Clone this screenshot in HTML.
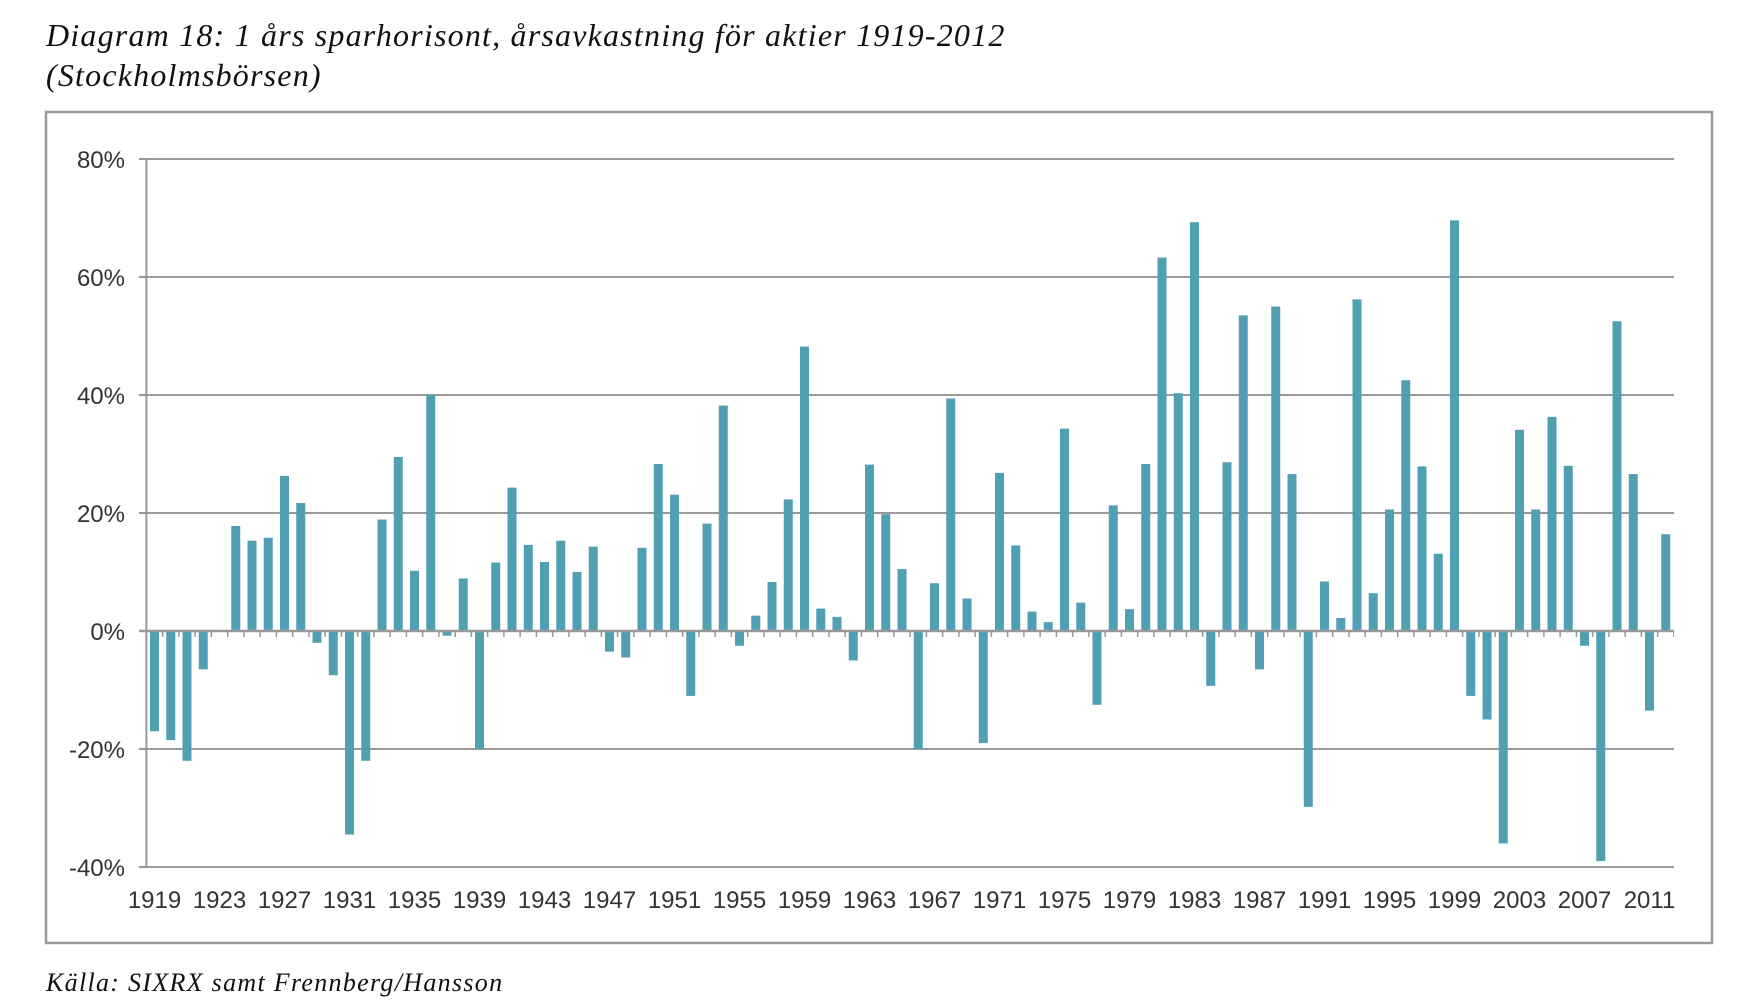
<!DOCTYPE html>
<html><head><meta charset="utf-8"><style>
html,body{margin:0;padding:0;background:#fff;}
body{width:1743px;height:1005px;overflow:hidden;position:relative;}
.t{position:absolute;left:46px;font-family:"Liberation Serif",serif;font-style:italic;color:#111;font-size:32px;letter-spacing:1.2px;white-space:nowrap;}
</style></head><body>
<div class="t" style="top:17px;">Diagram 18: 1 års sparhorisont, årsavkastning för aktier 1919-2012</div>
<div class="t" style="top:57px;">(Stockholmsbörsen)</div>
<div class="t" style="top:968px;font-size:26px;letter-spacing:1.3px;">Källa: SIXRX samt Frennberg/Hansson</div>
<svg width="1743" height="1005" style="position:absolute;left:0;top:0" xmlns="http://www.w3.org/2000/svg">
<rect x="46" y="112" width="1666" height="831" fill="none" stroke="#999" stroke-width="2.5"/>
<g stroke="#999" stroke-width="2">
<line x1="139" y1="159" x2="1674" y2="159"/>
<line x1="139" y1="277" x2="1674" y2="277"/>
<line x1="139" y1="395" x2="1674" y2="395"/>
<line x1="139" y1="513" x2="1674" y2="513"/>
<line x1="139" y1="749" x2="1674" y2="749"/>
<line x1="139" y1="867" x2="1674" y2="867"/>
<line x1="146.4" y1="159" x2="146.4" y2="867"/>
</g>
<g transform="translate(150,631) scale(16.25,-5.9)" fill="#519fb2">
<rect x="0" y="-17" width="0.554" height="17"/>
<rect x="1" y="-18.5" width="0.554" height="18.5"/>
<rect x="2" y="-22" width="0.554" height="22"/>
<rect x="3" y="-6.5" width="0.554" height="6.5"/>
<rect x="5" y="0" width="0.554" height="17.8"/>
<rect x="6" y="0" width="0.554" height="15.3"/>
<rect x="7" y="0" width="0.554" height="15.8"/>
<rect x="8" y="0" width="0.554" height="26.3"/>
<rect x="9" y="0" width="0.554" height="21.7"/>
<rect x="10" y="-2" width="0.554" height="2"/>
<rect x="11" y="-7.5" width="0.554" height="7.5"/>
<rect x="12" y="-34.5" width="0.554" height="34.5"/>
<rect x="13" y="-22" width="0.554" height="22"/>
<rect x="14" y="0" width="0.554" height="18.9"/>
<rect x="15" y="0" width="0.554" height="29.5"/>
<rect x="16" y="0" width="0.554" height="10.2"/>
<rect x="17" y="0" width="0.554" height="40"/>
<rect x="18" y="-0.8" width="0.554" height="0.8"/>
<rect x="19" y="0" width="0.554" height="8.9"/>
<rect x="20" y="-20" width="0.554" height="20"/>
<rect x="21" y="0" width="0.554" height="11.6"/>
<rect x="22" y="0" width="0.554" height="24.3"/>
<rect x="23" y="0" width="0.554" height="14.6"/>
<rect x="24" y="0" width="0.554" height="11.7"/>
<rect x="25" y="0" width="0.554" height="15.3"/>
<rect x="26" y="0" width="0.554" height="10"/>
<rect x="27" y="0" width="0.554" height="14.3"/>
<rect x="28" y="-3.5" width="0.554" height="3.5"/>
<rect x="29" y="-4.5" width="0.554" height="4.5"/>
<rect x="30" y="0" width="0.554" height="14.1"/>
<rect x="31" y="0" width="0.554" height="28.3"/>
<rect x="32" y="0" width="0.554" height="23.1"/>
<rect x="33" y="-11" width="0.554" height="11"/>
<rect x="34" y="0" width="0.554" height="18.2"/>
<rect x="35" y="0" width="0.554" height="38.2"/>
<rect x="36" y="-2.5" width="0.554" height="2.5"/>
<rect x="37" y="0" width="0.554" height="2.6"/>
<rect x="38" y="0" width="0.554" height="8.3"/>
<rect x="39" y="0" width="0.554" height="22.3"/>
<rect x="40" y="0" width="0.554" height="48.2"/>
<rect x="41" y="0" width="0.554" height="3.8"/>
<rect x="42" y="0" width="0.554" height="2.4"/>
<rect x="43" y="-5" width="0.554" height="5"/>
<rect x="44" y="0" width="0.554" height="28.2"/>
<rect x="45" y="0" width="0.554" height="19.8"/>
<rect x="46" y="0" width="0.554" height="10.5"/>
<rect x="47" y="-20" width="0.554" height="20"/>
<rect x="48" y="0" width="0.554" height="8.1"/>
<rect x="49" y="0" width="0.554" height="39.4"/>
<rect x="50" y="0" width="0.554" height="5.5"/>
<rect x="51" y="-19" width="0.554" height="19"/>
<rect x="52" y="0" width="0.554" height="26.8"/>
<rect x="53" y="0" width="0.554" height="14.5"/>
<rect x="54" y="0" width="0.554" height="3.3"/>
<rect x="55" y="0" width="0.554" height="1.5"/>
<rect x="56" y="0" width="0.554" height="34.3"/>
<rect x="57" y="0" width="0.554" height="4.8"/>
<rect x="58" y="-12.5" width="0.554" height="12.5"/>
<rect x="59" y="0" width="0.554" height="21.3"/>
<rect x="60" y="0" width="0.554" height="3.7"/>
<rect x="61" y="0" width="0.554" height="28.3"/>
<rect x="62" y="0" width="0.554" height="63.3"/>
<rect x="63" y="0" width="0.554" height="40.3"/>
<rect x="64" y="0" width="0.554" height="69.3"/>
<rect x="65" y="-9.3" width="0.554" height="9.3"/>
<rect x="66" y="0" width="0.554" height="28.6"/>
<rect x="67" y="0" width="0.554" height="53.5"/>
<rect x="68" y="-6.5" width="0.554" height="6.5"/>
<rect x="69" y="0" width="0.554" height="55"/>
<rect x="70" y="0" width="0.554" height="26.6"/>
<rect x="71" y="-29.8" width="0.554" height="29.8"/>
<rect x="72" y="0" width="0.554" height="8.4"/>
<rect x="73" y="0" width="0.554" height="2.2"/>
<rect x="74" y="0" width="0.554" height="56.2"/>
<rect x="75" y="0" width="0.554" height="6.4"/>
<rect x="76" y="0" width="0.554" height="20.6"/>
<rect x="77" y="0" width="0.554" height="42.5"/>
<rect x="78" y="0" width="0.554" height="27.9"/>
<rect x="79" y="0" width="0.554" height="13.1"/>
<rect x="80" y="0" width="0.554" height="69.6"/>
<rect x="81" y="-11" width="0.554" height="11"/>
<rect x="82" y="-15" width="0.554" height="15"/>
<rect x="83" y="-36" width="0.554" height="36"/>
<rect x="84" y="0" width="0.554" height="34.1"/>
<rect x="85" y="0" width="0.554" height="20.6"/>
<rect x="86" y="0" width="0.554" height="36.3"/>
<rect x="87" y="0" width="0.554" height="28"/>
<rect x="88" y="-2.5" width="0.554" height="2.5"/>
<rect x="89" y="-39" width="0.554" height="39"/>
<rect x="90" y="0" width="0.554" height="52.5"/>
<rect x="91" y="0" width="0.554" height="26.6"/>
<rect x="92" y="-13.5" width="0.554" height="13.5"/>
<rect x="93" y="0" width="0.554" height="16.4"/>
</g>
<line x1="139" y1="631" x2="1674" y2="631" stroke="#999" stroke-width="2.5"/>
<line x1="161.9" y1="634" x2="1674" y2="634" stroke="#999" stroke-width="6" stroke-dasharray="1.5 14.75"/>
<g font-family="Liberation Sans, sans-serif" font-size="24" fill="#333" text-anchor="end">
<text x="125" y="168">80%</text>
<text x="125" y="286">60%</text>
<text x="125" y="404">40%</text>
<text x="125" y="522">20%</text>
<text x="125" y="640">0%</text>
<text x="125" y="758">-20%</text>
<text x="125" y="876">-40%</text>
</g>
<g font-family="Liberation Sans, sans-serif" font-size="24" fill="#333" text-anchor="middle">
<text x="154.5" y="908">1919</text><text x="219.5" y="908">1923</text><text x="284.5" y="908">1927</text><text x="349.5" y="908">1931</text>
<text x="414.5" y="908">1935</text><text x="479.5" y="908">1939</text><text x="544.5" y="908">1943</text><text x="609.5" y="908">1947</text>
<text x="674.5" y="908">1951</text><text x="739.5" y="908">1955</text><text x="804.5" y="908">1959</text><text x="869.5" y="908">1963</text>
<text x="934.5" y="908">1967</text><text x="999.5" y="908">1971</text><text x="1064.5" y="908">1975</text><text x="1129.5" y="908">1979</text>
<text x="1194.5" y="908">1983</text><text x="1259.5" y="908">1987</text><text x="1324.5" y="908">1991</text><text x="1389.5" y="908">1995</text>
<text x="1454.5" y="908">1999</text><text x="1519.5" y="908">2003</text><text x="1584.5" y="908">2007</text><text x="1649.5" y="908">2011</text>
</g>
</svg>
</body></html>
